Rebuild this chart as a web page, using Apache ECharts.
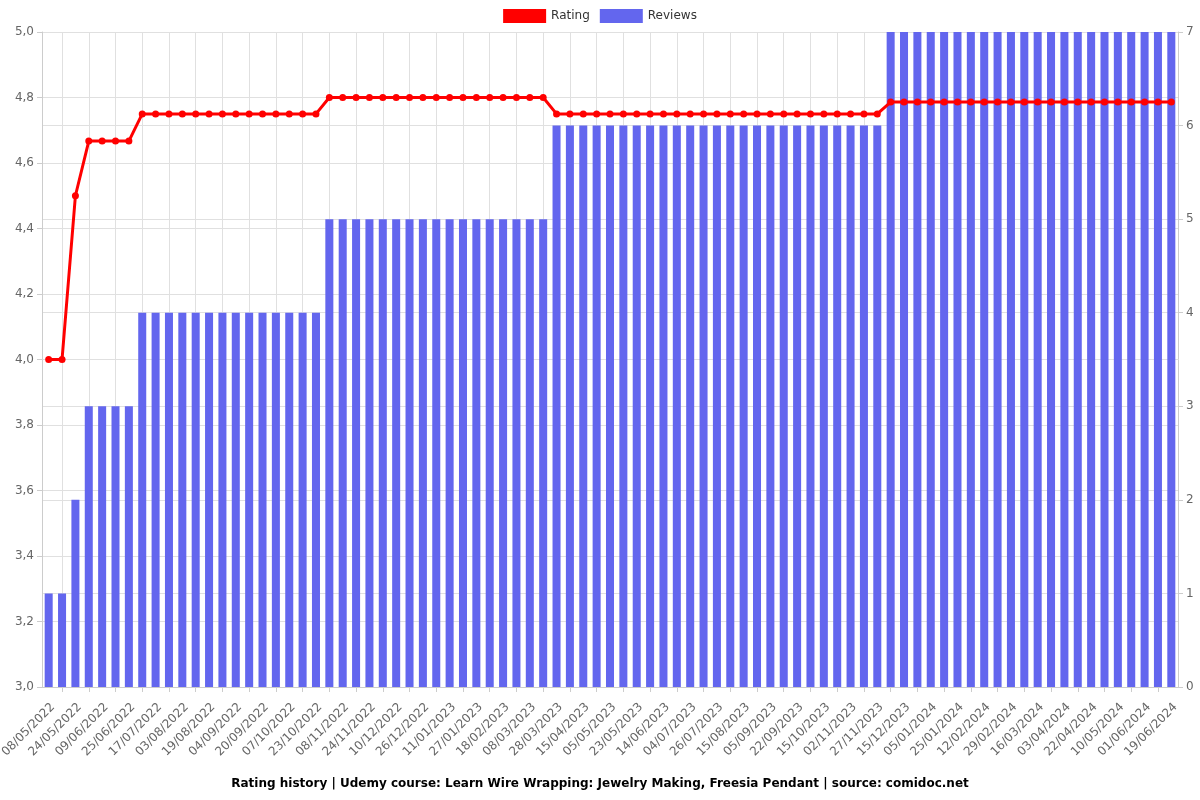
<!DOCTYPE html>
<html>
<head>
<meta charset="utf-8">
<script src="https://cdn.jsdelivr.net/npm/echarts@6/dist/echarts.min.js"></script>
<style>
html,body{margin:0;padding:0;background:#fff;}
#chart{width:1200px;height:800px;}
</style>
</head>
<body>
<div id="chart"></div>
<script>
// Dates (even-index ones are the visible labels; odd ones estimated)
const dates = [
"08/05/2022","16/05/2022","24/05/2022","01/06/2022","09/06/2022","17/06/2022","25/06/2022","06/07/2022",
"17/07/2022","25/07/2022","03/08/2022","11/08/2022","19/08/2022","27/08/2022","04/09/2022","12/09/2022",
"20/09/2022","28/09/2022","07/10/2022","15/10/2022","23/10/2022","31/10/2022","08/11/2022","16/11/2022",
"24/11/2022","02/12/2022","10/12/2022","18/12/2022","26/12/2022","03/01/2023","11/01/2023","19/01/2023",
"27/01/2023","07/02/2023","18/02/2023","27/02/2023","08/03/2023","18/03/2023","28/03/2023","06/04/2023",
"15/04/2023","25/04/2023","05/05/2023","14/05/2023","23/05/2023","02/06/2023","14/06/2023","24/06/2023",
"04/07/2023","15/07/2023","26/07/2023","05/08/2023","15/08/2023","25/08/2023","05/09/2023","14/09/2023",
"22/09/2023","03/10/2023","15/10/2023","24/10/2023","02/11/2023","14/11/2023","27/11/2023","06/12/2023",
"15/12/2023","25/12/2023","05/01/2024","15/01/2024","25/01/2024","03/02/2024","12/02/2024","21/02/2024",
"29/02/2024","08/03/2024","16/03/2024","25/03/2024","03/04/2024","13/04/2024","22/04/2024","01/05/2024",
"10/05/2024","21/05/2024","01/06/2024","10/06/2024","19/06/2024"
];

const ratings = [
4.0,4.0,4.5,4.667,4.667,4.667,4.667,
4.75,4.75,4.75,4.75,4.75,4.75,4.75,4.75,4.75,4.75,4.75,4.75,4.75,4.75,
4.8,4.8,4.8,4.8,4.8,4.8,4.8,4.8,4.8,4.8,4.8,4.8,4.8,4.8,4.8,4.8,4.8,
4.75,4.75,4.75,4.75,4.75,4.75,4.75,4.75,4.75,4.75,4.75,4.75,4.75,4.75,4.75,4.75,4.75,4.75,4.75,4.75,4.75,4.75,4.75,4.75,4.75,
4.786,4.786,4.786,4.786,4.786,4.786,4.786,4.786,4.786,4.786,4.786,4.786,4.786,4.786,4.786,4.786,4.786,4.786,4.786,4.786,4.786,4.786
];

const reviews = [
1,1,2,3,3,3,3,
4,4,4,4,4,4,4,4,4,4,4,4,4,4,
5,5,5,5,5,5,5,5,5,5,5,5,5,5,5,5,5,
6,6,6,6,6,6,6,6,6,6,6,6,6,6,6,6,6,6,6,6,6,6,6,6,6,
7,7,7,7,7,7,7,7,7,7,7,7,7,7,7,7,7,7,7,7,7,7
];

const titleText = "Rating history | Udemy course: Learn Wire Wrapping: Jewelry Making, Freesia Pendant | source: comidoc.net";

const FONT = "DejaVu Sans";
const gridColor = "#e0e0e0";
const axisColor = "#cccccc";

const chart = echarts.init(document.getElementById('chart'), null, {renderer: 'canvas'});
chart.setOption({
  animation: false,
  textStyle: {fontFamily: FONT},
  title: {
    text: titleText,
    left: 'center',
    bottom: 5,
    textStyle: {fontFamily: FONT, fontSize: 12, fontWeight: 'bold', color: '#000'}
  },
  legend: {
    top: 4,
    left: 'center',
    itemWidth: 43,
    itemHeight: 14,
    itemGap: 10,
    textStyle: {fontFamily: FONT, fontSize: 12, color: '#333'},
    data: [
      {name: 'Rating', icon: 'rect'},
      {name: 'Reviews', icon: 'rect'}
    ]
  },
  grid: {left: 42, right: 22, top: 32, bottom: 113, containLabel: false, outerBoundsMode: 'none'},
  xAxis: {
    type: 'category',
    data: dates,
    boundaryGap: true,
    axisLine: {show: true, lineStyle: {color: axisColor}},
    axisTick: {show: true, alignWithLabel: true, interval: function (i) { return i % 2 === 1; }, length: 5, lineStyle: {color: axisColor}},
    splitLine: {show: true, alignWithLabel: true, interval: function (i) { return i % 2 === 1; }, lineStyle: {color: gridColor}},
    axisLabel: {interval: 1, rotate: 45, fontFamily: FONT, fontSize: 12, color: '#666', margin: 14, verticalAlign: 'top'}
  },
  yAxis: [
    {
      type: 'value',
      min: 3, max: 5, interval: 0.2,
      position: 'left',
      axisLine: {show: true, lineStyle: {color: axisColor}},
      axisTick: {show: true, length: 5, lineStyle: {color: axisColor}},
      splitLine: {show: true, lineStyle: {color: gridColor}},
      axisLabel: {fontFamily: FONT, fontSize: 12, color: '#666', formatter: function (v) { return v.toFixed(1).replace('.', ','); }}
    },
    {
      type: 'value',
      min: 0, max: 7, interval: 1,
      position: 'right',
      axisLine: {show: true, lineStyle: {color: axisColor}},
      axisTick: {show: true, length: 5, lineStyle: {color: axisColor}},
      splitLine: {show: true, lineStyle: {color: gridColor}},
      axisLabel: {fontFamily: FONT, fontSize: 12, color: '#666'}
    }
  ],
  series: [
    {
      name: 'Rating',
      type: 'line',
      yAxisIndex: 0,
      data: ratings,
      z: 5,
      symbol: 'circle',
      symbolSize: 7,
      itemStyle: {color: '#ff0000'},
      lineStyle: {color: '#ff0000', width: 3}
    },
    {
      name: 'Reviews',
      type: 'bar',
      yAxisIndex: 1,
      data: reviews,
      barWidth: '60%',
      itemStyle: {color: '#6366ee'}
    }
  ]
});
</script>
</body>
</html>
